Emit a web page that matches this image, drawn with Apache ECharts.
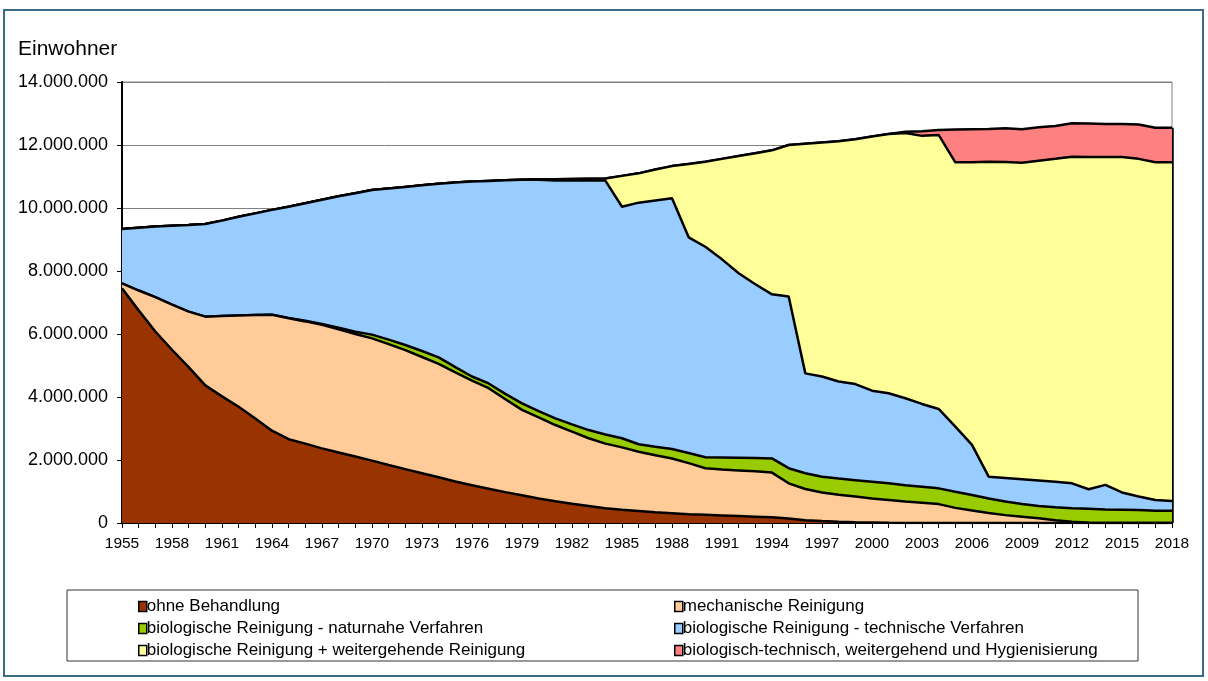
<!DOCTYPE html>
<html>
<head>
<meta charset="utf-8">
<title>Einwohner</title>
<script src="https://cdn.jsdelivr.net/npm/echarts@6/dist/echarts.min.js"></script>
<style>
  html, body { margin: 0; padding: 0; background: #fff; }
  #chart { width: 1208px; height: 681px; }
</style>
</head>
<body>
<div id="chart"></div>
<script>
// Jahre 1955 - 2018
var years = [];
for (var y = 1955; y <= 2018; y++) years.push(String(y));

var yTicks = [0, 2000000, 4000000, 6000000, 8000000, 10000000, 12000000, 14000000];

var seriesNames = [
  'ohne Behandlung',
  'mechanische Reinigung',
  'biologische Reinigung - naturnahe Verfahren',
  'biologische Reinigung - technische Verfahren',
  'biologische Reinigung + weitergehende Reinigung',
  'biologisch-technisch, weitergehend und Hygienisierung'
];

var ohneBehandlung = [
  7450000, 6750000, 6080000, 5500000, 4950000, 4370000, 4020000, 3690000, 3320000, 2930000,
  2660000, 2520000, 2370000, 2240000, 2110000, 1980000, 1840000, 1710000, 1580000, 1450000,
  1320000, 1200000, 1090000, 980000, 880000, 780000, 690000, 610000, 540000, 470000,
  420000, 380000, 340000, 310000, 280000, 260000, 240000, 220000, 200000, 180000,
  140000, 90000, 60000, 40000, 25000, 15000, 5000,
  0, 0, 0, 0, 0, 0, 0, 0, 0, 0, 0, 0, 0, 0, 0, 0, 0
];
var mechanisch = [
  160000, 630000, 1090000, 1430000, 1760000, 2180000, 2550000, 2900000, 3280000, 3680000,
  3840000, 3880000, 3920000, 3910000, 3890000, 3880000, 3840000, 3780000, 3690000, 3600000,
  3460000, 3320000, 3190000, 2950000, 2710000, 2570000, 2420000, 2290000, 2150000, 2050000,
  1980000, 1880000, 1810000, 1740000, 1620000, 1480000, 1460000, 1450000, 1440000, 1420000,
  1120000, 990000, 910000, 860000, 815000, 765000, 725000,
  680000, 640000, 600000, 480000, 400000, 320000, 250000, 200000, 150000, 90000, 40000, 10000, 0, 0, 0, 0, 0
];
var naturnah = [
  0, 0, 0, 0, 0, 0, 0, 0, 0, 0,
  10000, 20000, 30000, 50000, 70000, 120000, 140000, 160000, 190000, 210000,
  170000, 130000, 150000, 170000, 210000, 200000, 210000, 230000, 260000, 290000,
  290000, 240000, 270000, 300000, 320000, 350000, 380000, 400000, 420000, 450000,
  480000, 500000, 500000, 510000, 520000, 530000, 530000, 520000, 510000, 500000,
  510000, 490000, 460000, 430000, 400000, 390000, 410000, 430000, 440000, 430000,
  420000, 410000, 390000, 390000
];
var technisch = [
  1720000, 1990000, 2240000, 2510000, 2750000, 2940000, 3030000, 3130000, 3230000, 3330000,
  3530000, 3730000, 3940000, 4170000, 4400000, 4590000, 4800000, 5020000, 5260000, 5510000,
  5860000, 6190000, 6430000, 6780000, 7100000, 7350000, 7550000, 7740000, 7920000, 8060000,
  7350000, 7670000, 7820000, 7960000, 6850000, 6680000, 6290000, 5860000, 5520000, 5210000,
  5450000, 3170000, 3180000, 3080000, 3050000, 2890000, 2860000,
  2760000, 2630000, 2520000, 2070000, 1590000, 690000, 750000, 790000, 810000, 810000, 790000, 620000, 780000,
  550000, 430000, 340000, 310000
];
var weitergehend = [
  0, 0, 0, 0, 0, 0, 0, 0, 0, 0,
  0, 0, 0, 0, 0, 0, 0, 0, 0, 0,
  0, 0, 0, 0, 0, 10000, 40000, 50000, 60000, 70000,
  980000, 930000, 980000, 1020000, 2330000, 2700000, 3190000, 3720000, 4160000, 4570000,
  4810000, 7290000, 7430000, 7630000, 7770000, 8070000, 8230000, 8420000, 8510000, 8700000,
  8390000, 8970000, 10000000, 10030000, 10050000, 10150000, 10250000, 10370000, 10550000, 10410000,
  10650000, 10720000, 10720000, 10750000
];
var hygienisierung = [
  0, 0, 0, 0, 0, 0, 0, 0, 0, 0,
  0, 0, 0, 0, 0, 0, 0, 0, 0, 0,
  0, 0, 0, 0, 0, 0, 0, 0, 0, 0,
  0, 0, 0, 0, 0, 0, 0, 0, 0, 0,
  0, 0, 0, 0, 0, 0, 0,
  40000, 150000, 160000, 1040000, 1050000, 1040000, 1070000, 1060000, 1060000, 1040000, 1060000, 1060000, 1050000,
  1050000, 1090000, 1100000, 1100000
];

var colors = ['#993300', '#FFCC99', '#99CC00', '#99CCFF', '#FFFF99', '#FF8080'];
var allData = [ohneBehandlung, mechanisch, naturnah, technisch, weitergehend, hygienisierung];
var fontFam = 'Arial, "Liberation Sans", sans-serif';

var lastIdx = years.length - 1;
var total2018 = 0;
allData.forEach(function (d) { total2018 += d[lastIdx]; });

function fmt(v) {
  return String(v).replace(/\B(?=(\d{3})+(?!\d))/g, '.');
}

var myChart = echarts.init(document.getElementById('chart'));

var series = allData.map(function (d, i) {
  var s = {
    name: seriesNames[i],
    type: 'line',
    stack: 'ew',
    data: d,
    symbol: 'none',
    z: 10 - i, // untere Flaechen oben, damit die Linien sichtbar bleiben
    itemStyle: { color: colors[i] },
    lineStyle: { color: '#000', width: 2.5 },
    areaStyle: { color: colors[i], opacity: 1 }
  };
  if (i === 0) {
    // rechte Kante der Flaechen bei 2018
    s.markLine = {
      silent: true,
      symbol: 'none',
      label: { show: false },
      lineStyle: { color: '#000', width: 2.5, type: 'solid' },
      data: [[{ coord: [years[lastIdx], 0] }, { coord: [years[lastIdx], total2018] }]]
    };
  }
  return s;
});

var legendBase = {
  orient: 'vertical',
  icon: 'rect',
  itemWidth: 8,
  itemHeight: 10,
  itemGap: 5,
  selectedMode: false,
  itemStyle: { borderColor: '#000', borderWidth: 1.5 },
  textStyle: { fontFamily: fontFam, fontSize: 17, color: '#000', lineHeight: 17, padding: [0, 0, 0, -5] }
};

var option = {
  animation: false,
  backgroundColor: '#fff',
  title: {
    text: 'Einwohner',
    left: 13,
    top: 34,
    textStyle: { fontFamily: fontFam, fontSize: 21, fontWeight: 'normal', color: '#000' }
  },
  legend: [
    Object.assign({}, legendBase, {
      left: 133, top: 593,
      data: [seriesNames[0], seriesNames[2], seriesNames[4]]
    }),
    Object.assign({}, legendBase, {
      left: 669, top: 593,
      data: [seriesNames[1], seriesNames[3], seriesNames[5]]
    })
  ],
  grid: {
    left: 122,
    top: 82,
    right: 36,
    bottom: 158,
    show: true,
    borderColor: '#808080',
    borderWidth: 1
  },
  xAxis: {
    type: 'category',
    boundaryGap: false,
    data: years,
    axisLine: { lineStyle: { color: '#000', width: 2 } },
    axisTick: { show: true, interval: 0, length: 5, lineStyle: { color: '#000' } },
    axisLabel: {
      interval: 2,
      margin: 13,
      color: '#000',
      fontFamily: fontFam,
      fontSize: 15.5
    }
  },
  yAxis: {
    type: 'value',
    min: yTicks[0],
    max: yTicks[yTicks.length - 1],
    interval: yTicks[1] - yTicks[0],
    axisLine: { show: true, lineStyle: { color: '#000', width: 2 } },
    axisTick: { show: true, length: 5, lineStyle: { color: '#000' } },
    splitLine: { show: true, lineStyle: { color: '#808080', width: 1 } },
    axisLabel: {
      margin: 14,
      color: '#000',
      fontFamily: fontFam,
      fontSize: 18,
      formatter: function (v) { return fmt(v); }
    }
  },
  graphic: [
    {
      type: 'rect',
      silent: true,
      shape: { x: 4, y: 10, width: 1199, height: 666 },
      style: { fill: 'none', stroke: '#3C6A84', lineWidth: 2 }
    },
    {
      type: 'rect',
      silent: true,
      shape: { x: 67, y: 590, width: 1071, height: 71 },
      style: { fill: 'none', stroke: '#333', lineWidth: 1 }
    }
  ],
  series: series
};

myChart.setOption(option);
</script>
</body>
</html>
